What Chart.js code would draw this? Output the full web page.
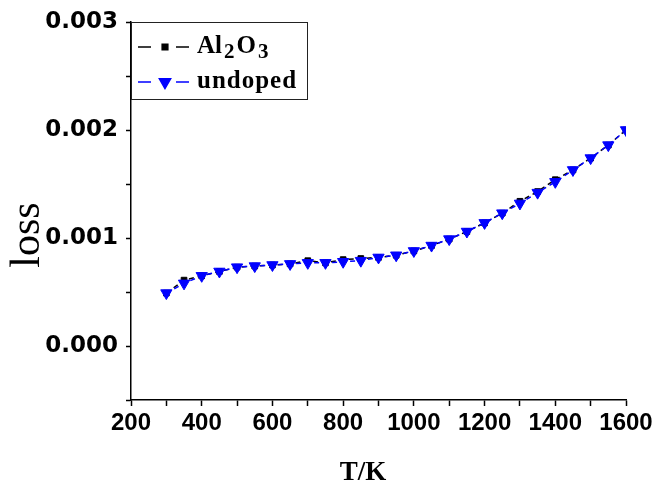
<!DOCTYPE html>
<html>
<head>
<meta charset="utf-8">
<script src="https://cdn.jsdelivr.net/npm/chart.js@4.4.1/dist/chart.umd.min.js"></script>
<style>
  body { margin: 0; background: #fff; }
  #wrap { width: 657px; height: 483px; }
</style>
</head>
<body>
<div id="wrap"><canvas id="chart" width="657" height="483"></canvas></div>
<script>
// temperature (K) and dielectric loss
const temperatures = [300, 350, 400, 450, 500, 550, 600, 650, 700, 750, 800, 850, 900, 950,
    1000, 1050, 1100, 1150, 1200, 1250, 1300, 1350, 1400, 1450, 1500, 1550, 1600]
const lossAl2O3 = [0.00049, 0.00061, 0.00065, 0.00069, 0.00073, 0.00074, 0.00075, 0.00076, 0.00079,
    0.00077, 0.00080, 0.00081, 0.00082, 0.00084, 0.00088, 0.00093, 0.00099, 0.00106, 0.00114,
    0.00123, 0.00134, 0.00143, 0.00154, 0.00163, 0.00174, 0.00186, 0.00200]
const lossUndoped = [0.00049, 0.00058, 0.00065, 0.00069, 0.00073, 0.00074, 0.00075, 0.00076, 0.00077,
    0.00077, 0.00078, 0.00079, 0.00082, 0.00084, 0.00088, 0.00093, 0.00099, 0.00106, 0.00114,
    0.00123, 0.00132, 0.00142, 0.00152, 0.00163, 0.00174, 0.00186, 0.00200]
const xLabelled = [200, 400, 600, 800, 1000, 1200, 1400, 1600]
const yLabelled = [0.000, 0.001, 0.002, 0.003]

const toPoints = (ys) => temperatures.map((t, i) => ({x: t, y: ys[i]}))

const series = [
    {label: 'undoped', data: toPoints(lossUndoped), color: '#0000ff', pointStyle: 'triangle', rotation: 180, radius: 6.5, order: 0},
    {label: 'Al2O3', data: toPoints(lossAl2O3), color: '#000000', pointStyle: 'rect', rotation: 0, radius: 4, order: 1}
]

const overlay = {
    id: 'overlay',
    afterDraw(chart) {
        const ctx = chart.ctx
        const area = chart.chartArea
        ctx.save()

        // legend box in the upper-left corner of the plot
        const bx = area.left, by = area.top, bw = 176, bh = 77
        ctx.strokeStyle = '#222'
        ctx.lineWidth = 1
        ctx.strokeRect(bx + 0.5, by + 0.5, bw, bh)

        const rows = [series[1], series[0]]
        rows.forEach((s, i) => {
            const cy = by + 25 + i * 35
            ctx.strokeStyle = s.color
            ctx.lineWidth = 1.5
            ctx.beginPath()
            ctx.moveTo(bx + 7, cy)
            ctx.lineTo(bx + 20, cy)
            ctx.moveTo(bx + 45, cy)
            ctx.lineTo(bx + 58, cy)
            ctx.stroke()
            ctx.fillStyle = s.color
            Chart.helpers.drawPoint(ctx, {pointStyle: s.pointStyle, radius: s.radius, rotation: s.rotation, borderWidth: 1}, bx + 34, cy)

            ctx.fillStyle = '#000'
            ctx.textBaseline = 'middle'
            ctx.textAlign = 'left'
            let x = bx + 66
            if (s.label === 'Al2O3') {
                const parts = [['Al', 0, 25], ['2', 6, 21], ['O', 0, 25], ['3', 6, 21]]
                parts.forEach(([txt, dy, size]) => {
                    ctx.font = 'bold ' + size + 'px "Liberation Serif"'
                    ctx.fillText(txt, x, cy + dy)
                    x += ctx.measureText(txt).width + 2
                })
            } else {
                ctx.font = 'bold 25px "Liberation Serif"'
                ctx.letterSpacing = '1px'
                ctx.fillText(s.label, x, cy)
                ctx.letterSpacing = '0px'
            }
        })

        // axis titles
        ctx.fillStyle = '#000'
        ctx.textAlign = 'center'
        ctx.textBaseline = 'middle'
        ctx.font = 'bold 27px "Liberation Serif"'
        ctx.fillText('T/K', 363, 473)

        ctx.translate(28, 235)
        ctx.rotate(-Math.PI / 2)
        ctx.font = '42px "Liberation Serif"'
        ctx.fillText('loss', 0, 0)

        ctx.restore()
    }
}

const isLabelled = (list, v) => list.some(l => Math.abs(l - v) < 1e-9)

new Chart(document.getElementById('chart'), {
    type: 'line',
    data: {
        datasets: series.map(s => ({
            label: s.label,
            data: s.data,
            order: s.order,
            borderColor: s.color,
            backgroundColor: s.color,
            borderWidth: 1.5,
            borderDash: [5, 4],
            pointStyle: s.pointStyle,
            rotation: s.rotation,
            pointRadius: s.radius,
            pointBorderWidth: 1,
            tension: 0,
            fill: false
        }))
    },
    options: {
        responsive: false,
        animation: false,
        devicePixelRatio: 1,
        layout: {padding: {top: 22, right: 31, left: 0, bottom: 0}},
        plugins: {
            legend: {display: false},
            tooltip: {enabled: false}
        },
        scales: {
            x: {
                type: 'linear',
                min: 200,
                max: 1600,
                afterFit: (scale) => { scale.height = 83 },
                border: {display: true, color: '#000', width: 1.5},
                grid: {drawOnChartArea: false, drawTicks: true, tickLength: 6, color: '#000', tickWidth: 1.5},
                ticks: {
                    stepSize: 100,
                    autoSkip: false,
                    maxRotation: 0,
                    padding: 3,
                    color: '#000',
                    font: {family: '"Liberation Sans"', weight: 'bold', size: 24},
                    callback: (v) => isLabelled(xLabelled, v) ? String(v) : ''
                }
            },
            y: {
                min: -0.0005,
                max: 0.003,
                afterFit: (scale) => { scale.width = 131 },
                border: {display: true, color: '#000', width: 1.5},
                grid: {drawOnChartArea: false, drawTicks: true, tickLength: 5, color: '#000', tickWidth: 1.5},
                ticks: {
                    stepSize: 0.0005,
                    autoSkip: false,
                    padding: 8,
                    color: '#000',
                    font: {family: '"DejaVu Sans"', weight: 'bold', size: 23},
                    callback: (v) => isLabelled(yLabelled, v) ? v.toFixed(3) : ''
                }
            }
        }
    },
    plugins: [overlay]
})
</script>
</body>
</html>
